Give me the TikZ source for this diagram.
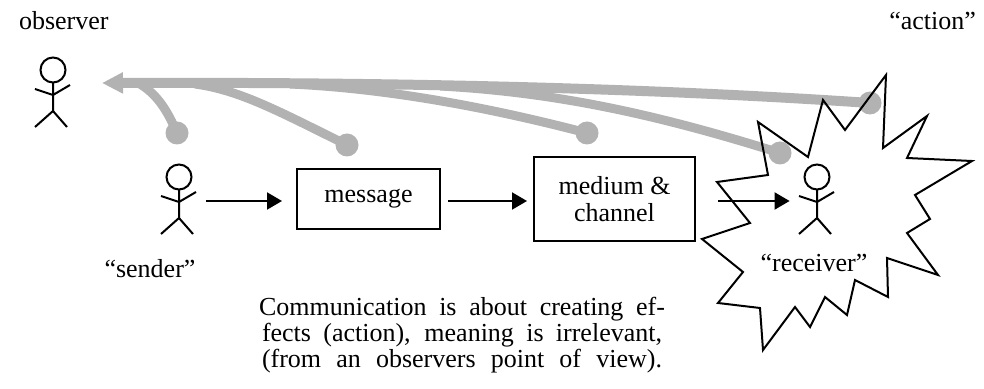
\documentclass[tikz,border=0pt]{standalone}
\usepackage{fontspec}
\setmainfont{Liberation Serif}
\usetikzlibrary{positioning}
\usetikzlibrary{arrows.meta}

\begin{document}
\begin{tikzpicture}[
        x=0.5pt, y=-0.5pt,
        font=\fontsize{13}{11.25}\selectfont,
        box/.style = {draw, rectangle, line width=1pt, inner sep=0pt, align=center,
                      font=\fontsize{13}{13.5}\selectfont},
        flow/.style = {line width=1pt, -{Triangle[length=7.5pt, width=8.5pt]}},
        effect/.style = {line width=4.5pt, black!30},
        dot/.style = {circle, fill=black!30, inner sep=0pt, minimum size=11.5pt},
        person/.pic = {
            \draw[line width=1pt] (0,0) circle[radius=12.5]
                (0,12.5) -- (0,41) -- (-18,57) (0,41) -- (14,57)
                (-18,19) -- (0,25) -- (17,15);
            \node[inner sep=0pt, minimum width=27pt, minimum height=35pt] (-fig) at (0,24) {};
        },
        ]
    \useasboundingbox (0,0) rectangle (984,389);

    % grey effects back to the observer
    \node[dot] (actDot) at (870,103) {};
    \node[dot] (recvDot) at (780,153) {};
    \node[dot] (chanDot) at (587,133) {};
    \node[dot] (msgDot) at (347,145) {};
    \node[dot] (sendDot) at (177,133) {};
    \coordinate (seen) at (102,83);
    \draw[effect, line width=5pt, -{Triangle[length=10.5pt, width=10pt]}]
        (actDot.center) .. controls (650,88) and (400,82) .. (seen);
    \draw[effect] (recvDot.center) .. controls (650,112) and (550,92) .. (440,86);
    \draw[effect] (chanDot.center) .. controls (480,105) and (380,88) .. (290,84);
    \draw[effect] (msgDot.center) .. controls (280,112) and (240,90) .. (195,84);
    \draw[effect] (sendDot.center) .. controls (168,112) and (158,95) .. (140,84);

    \pic (observer) at (53,70) {person};
    \pic (sender) at (179,177) {person};
    \pic (receiver) at (817,177) {person};

    \node[box, minimum width=71.5pt, minimum height=30pt] (message) at (368.5,199) {message};
    \node[box, minimum width=80.5pt, minimum height=42pt, right=46pt of message] (medium) {medium \&\\channel};

    \draw[flow, shorten >=7pt] (sender-fig) -- (sender-fig -| message.west);
    \draw[flow, shorten <=3.5pt, shorten >=3pt] (message.east |- sender-fig) -- (medium.west |- sender-fig);
    \draw[flow, shorten <=11pt] (medium.east |- receiver-fig) -- (receiver-fig);

    % the effect at the receiver
    \draw[line width=1pt] (717,182) -- (768,175) -- (758,122) -- (808,157) -- (823,100)
        -- (845,130) -- (886,75) -- (883,148) -- (927,116) -- (907,158) -- (972,161)
        -- (915,195) -- (930,219) -- (907,233) -- (938,275) -- (887,258) -- (888,297)
        -- (855,280) -- (847,315) -- (825,297) -- (810,327) -- (795,307) -- (763,350)
        -- (760,308) -- (718,303) -- (743,272) -- (702,239) -- (750,223) -- cycle;

    \node[anchor=base west] (obsLabel) at (12,30) {observer};
    \node[anchor=base east] (actLabel) at (983,30) {“action”};
    \node[anchor=base] (sendLabel) at (150,278) {“sender”};
    \node[anchor=base] (recvLabel) at (814,272) {“receiver”};
    \node[align=center, anchor=base] (note) at (462,367)
        {\makebox[203pt][s]{Communication is about creating ef-}\\
         \makebox[200pt][s]{fects (action), meaning is irrelevant,}\\
         \makebox[200pt][s]{(from an observers point of view).}};
\end{tikzpicture}
\end{document}
